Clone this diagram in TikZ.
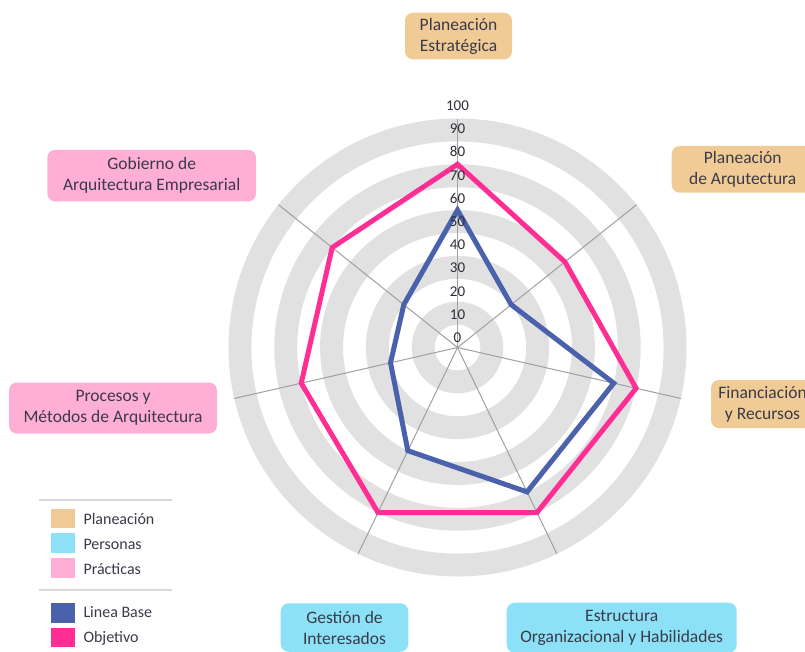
\documentclass[tikz,border=0pt]{standalone}
\usepackage{fontspec}
\setmainfont{Carlito}
\definecolor{tanc}{HTML}{F0CB96}
\definecolor{skyc}{HTML}{8DE1F7}
\definecolor{pinkc}{HTML}{FFAED6}
\definecolor{blueline}{HTML}{4A62AB}
\definecolor{pinkline}{HTML}{FF2E95}
\definecolor{bandgray}{HTML}{E1E1E1}
\definecolor{axisgray}{HTML}{A0A0A0}
\definecolor{sepgray}{HTML}{D9D9D9}
\definecolor{txt}{HTML}{3A3A48}
\definecolor{numtxt}{HTML}{2E2E38}
\begin{document}
\begin{tikzpicture}[x=1pt,y=-1pt,
  lbl/.style={rounded corners=8pt, align=center, inner sep=0pt, text=txt, font=\fontsize{17.5}{21}\selectfont},
  axnum/.style={text=numtxt, font=\fontsize{15}{18}\selectfont, inner sep=0pt, anchor=base},
  legsq/.style={minimum width=24pt, minimum height=19.5pt, inner sep=0pt},
  legtxt/.style={text=txt, font=\fontsize{16}{19}\selectfont, inner sep=0pt, anchor=base west},
  spoke/.style={draw=axisgray, line width=1pt},
  series/.style={line width=5pt, line join=miter},
  sep/.style={draw=sepgray, line width=2pt}]
\useasboundingbox (0,0) rectangle (805,651);
\fill[white] (0,0) rectangle (805,651);
\coordinate (c) at (457.5,347.5);
\begin{scope}[shift={(c)}, y=1pt]
  \foreach \a/\b in {10/20,30/40,50/60,70/80,90/100}
    \fill[bandgray, even odd rule] (0,0) circle[radius=\a*2.29] (0,0) circle[radius=\b*2.29];
  \foreach \k in {0,...,6}
    \draw[spoke] (0,0) -- ({90-\k*360/7}:229);
  \draw[series, draw=blueline] (90:137.4) -- (38.571:68.7) -- (-12.857:160.3) -- (-64.286:160.3) -- (-115.714:114.5) -- (-167.143:68.7) -- (141.429:68.7) -- cycle;
  \draw[series, draw=pinkline] (90:183.2) -- (38.571:137.4) -- (-12.857:183.2) -- (-64.286:183.2) -- (-115.714:183.2) -- (-167.143:160.3) -- (141.429:160.3) -- cycle;
  \foreach \v in {0,10,...,100}
    \node[axnum] (n\v) at (0,{\v*2.32+5}) {\v};
\end{scope}
% category labels
\node[lbl, fill=tanc, minimum width=107pt, minimum height=46.6pt] (pe) at (458.5,36) {Planeación\\Estratégica};
\node[lbl, fill=tanc, minimum width=142pt, minimum height=46.7pt] (pa) at (742.7,169.3) {Planeación\\de Arqutectura};
\node[lbl, fill=tanc, minimum width=103pt, minimum height=48pt] (fr) at (762.5,404) {Financiación\\y Recursos};
\node[lbl, fill=skyc, minimum width=230pt, minimum height=50pt] (eo) at (621.7,627.7) {Estructura\\Organizacional y Habilidades};
\node[lbl, fill=skyc, minimum width=127.6pt, minimum height=48.5pt] (gi) at (344.5,627.5) {Gestión de\\Interesados};
\node[lbl, fill=pinkc, minimum width=208pt, minimum height=51pt] (pm) at (113,408) {Procesos y\\Métodos de Arquitectura};
\node[lbl, fill=pinkc, minimum width=208.7pt, minimum height=51.7pt] (ga) at (151.7,175.6) {Gobierno de\\Arquitectura Empresarial};
% legend
\coordinate (s1a) at (39.3,500); \coordinate (s1b) at (171.7,500);
\coordinate (s2a) at (39.3,590); \coordinate (s2b) at (171.7,590);
\draw[sep] (s1a) -- (s1b);
\draw[sep] (s2a) -- (s2b);
\node[legsq, fill=tanc] (q1) at (63,518.5) {};
\node[legsq, fill=skyc] (q2) at (63,543) {};
\node[legsq, fill=pinkc] (q3) at (63,568) {};
\node[legsq, fill=blueline] (q4) at (63,613) {};
\node[legsq, fill=pinkline] (q5) at (63,637.5) {};
\node[legtxt] (t1) at (83.3,524) {Planeación};
\node[legtxt] (t2) at (83.3,549) {Personas};
\node[legtxt] (t3) at (83.3,574) {Prácticas};
\node[legtxt] (t4) at (83.3,617) {Linea Base};
\node[legtxt] (t5) at (83.3,642) {Objetivo};
\end{tikzpicture}
\end{document}
